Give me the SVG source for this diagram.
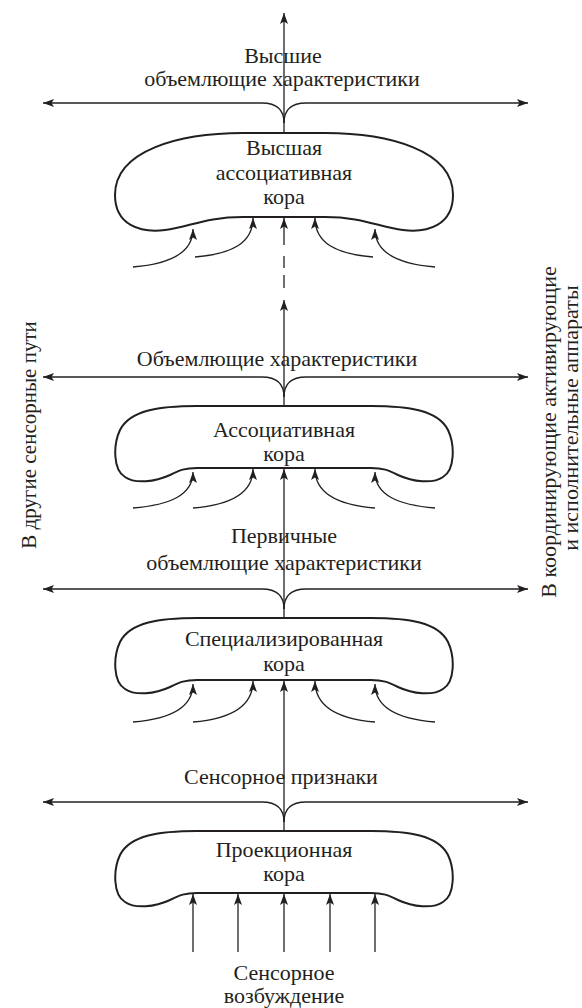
<svg xmlns="http://www.w3.org/2000/svg" width="582" height="1008" viewBox="0 0 582 1008">
<style>
.t{font-family:"Liberation Serif","Times New Roman",serif;font-size:22px;fill:#231f20;text-anchor:middle}
.c{fill:#fff;stroke:#231f20;stroke-width:2}
.a{fill:none;stroke:#231f20;stroke-width:1.3}
.b{fill:none;stroke:#231f20;stroke-width:2}
</style>
<defs>
<marker id="ah" markerUnits="userSpaceOnUse" markerWidth="12" markerHeight="8" refX="11" refY="4" orient="auto" viewBox="0 0 12 8">
<path d="M0,0 L11,4 L0,8 L2.5,4 Z" fill="#231f20"/>
</marker>
<path id="cx" d="M197,0 L371,0 C408,0 438,4 448,24 C455,39 455,64 443,71 C433,78 413,76 398,69 C388,64 383,62 371,62 L197,62 C185,62 180,64 170,69 C155,76 135,78 125,71 C113,64 113,39 120,24 C130,4 160,0 197,0 Z"/>
</defs>
<g id="connectors">
<line class="a" x1="284" y1="133" x2="284" y2="13" marker-end="url(#ah)"/>
<path class="a" d="M262,103 Q284,103 284,123" /><path class="a" d="M306,103 Q284,103 284,123"/>
<line class="a" x1="262" y1="103" x2="43" y2="103" marker-end="url(#ah)"/>
<line class="a" x1="306" y1="103" x2="528" y2="103" marker-end="url(#ah)"/>
<path class="a" d="M133,267 C170,264 193,252 193,229" marker-end="url(#ah)"/>
<path class="a" d="M195,257 C232,254 253,243 253,218" marker-end="url(#ah)"/>
<line class="a" x1="284" y1="245" x2="284" y2="218" marker-end="url(#ah)"/>
<line class="a" x1="284" y1="256" x2="284" y2="268"/>
<line class="a" x1="284" y1="275" x2="284" y2="288"/>
<path class="a" d="M373,257 C336,254 315,243 315,218" marker-end="url(#ah)"/>
<path class="a" d="M435,267 C398,264 375,252 375,229" marker-end="url(#ah)"/>
<line class="a" x1="284" y1="406" x2="284" y2="300" marker-end="url(#ah)"/>
<path class="a" d="M262,377 Q284,377 284,397" /><path class="a" d="M306,377 Q284,377 284,397"/>
<line class="a" x1="262" y1="377" x2="43" y2="377" marker-end="url(#ah)"/>
<line class="a" x1="306" y1="377" x2="528" y2="377" marker-end="url(#ah)"/>
<path class="a" d="M133,508 C170,505 193,495 193,472" marker-end="url(#ah)"/>
<path class="a" d="M193,508 C230,505 253,494 253,469" marker-end="url(#ah)"/>
<path class="a" d="M375,508 C338,505 315,494 315,469" marker-end="url(#ah)"/>
<path class="a" d="M435,508 C398,505 375,495 375,472" marker-end="url(#ah)"/>
<line class="a" x1="284" y1="618" x2="284" y2="469" marker-end="url(#ah)"/>
<path class="a" d="M262,589 Q284,589 284,609" /><path class="a" d="M306,589 Q284,589 284,609"/>
<line class="a" x1="262" y1="589" x2="43" y2="589" marker-end="url(#ah)"/>
<line class="a" x1="306" y1="589" x2="528" y2="589" marker-end="url(#ah)"/>
<path class="a" d="M133,722 C170,719 193,708 193,684" marker-end="url(#ah)"/>
<path class="a" d="M193,722 C230,719 253,707 253,681" marker-end="url(#ah)"/>
<path class="a" d="M375,722 C338,719 315,707 315,681" marker-end="url(#ah)"/>
<path class="a" d="M435,722 C398,719 375,708 375,684" marker-end="url(#ah)"/>
<line class="a" x1="284" y1="831" x2="284" y2="681" marker-end="url(#ah)"/>
<path class="a" d="M262,802 Q284,802 284,822" /><path class="a" d="M306,802 Q284,802 284,822"/>
<line class="a" x1="262" y1="802" x2="43" y2="802" marker-end="url(#ah)"/>
<line class="a" x1="306" y1="802" x2="528" y2="802" marker-end="url(#ah)"/>
<line class="a" x1="193" y1="952" x2="193" y2="894" marker-end="url(#ah)"/>
<line class="a" x1="238" y1="952" x2="238" y2="894" marker-end="url(#ah)"/>
<line class="a" x1="284" y1="952" x2="284" y2="894" marker-end="url(#ah)"/>
<line class="a" x1="330" y1="952" x2="330" y2="894" marker-end="url(#ah)"/>
<line class="a" x1="375" y1="952" x2="375" y2="894" marker-end="url(#ah)"/>
</g>
<g id="label-top">
<text class="t" x="283" y="63">Высшие</text>
<text class="t" x="282" y="86">объемлющие характеристики</text>
</g>
<g id="cortex-higher">
<path class="c" d="M243,133 L325,133 C388,133 453,150 453,195 C453,225 428,233 403,230 C378,227 363,217 325,217 L243,217 C205,217 190,227 165,230 C140,233 115,225 115,195 C115,150 180,133 243,133 Z"/>
<line class="b" x1="243" y1="217" x2="325" y2="217"/>
<text class="t" x="284" y="155">Высшая</text>
<text class="t" x="284" y="180">ассоциативная</text>
<text class="t" x="284" y="204">кора</text>
</g>
<g id="label-assoc">
<text class="t" x="277" y="366">Объемлющие характеристики</text>
</g>
<g id="cortex-assoc">
<use href="#cx" class="c" transform="translate(0,406)"/>
<text class="t" x="284" y="437">Ассоциативная</text>
<text class="t" x="284" y="461">кора</text>
</g>
<g id="label-primary">
<text class="t" x="284" y="543">Первичные</text>
<text class="t" x="284" y="570">объемлющие характеристики</text>
</g>
<g id="cortex-special">
<use href="#cx" class="c" transform="translate(0,618)"/>
<text class="t" x="284" y="646">Специализированная</text>
<text class="t" x="284" y="671">кора</text>
</g>
<g id="label-sensory">
<text class="t" x="281" y="784">Сенсорное признаки</text>
</g>
<g id="cortex-projection">
<use href="#cx" class="c" transform="translate(0,831)"/>
<text class="t" x="284" y="857">Проекционная</text>
<text class="t" x="284" y="881">кора</text>
</g>
<g id="label-bottom">
<text class="t" x="284" y="980">Сенсорное</text>
<text class="t" x="284" y="1003">возбуждение</text>
</g>
<g id="label-left">
<text class="t" style="font-size:21px" transform="translate(36,435) rotate(-90)">В другие сенсорные пути</text>
</g>
<g id="label-right">
<text class="t" transform="translate(556,432) rotate(-90)">В координирующие активирующие</text>
<text class="t" transform="translate(578,418) rotate(-90)">и исполнительные аппараты</text>
</g>
</svg>
